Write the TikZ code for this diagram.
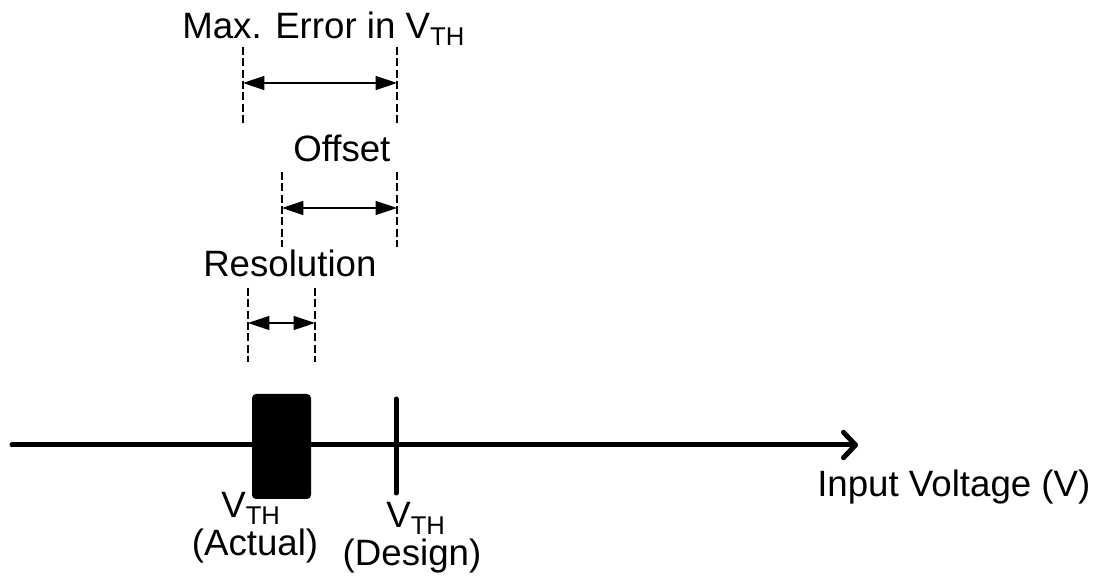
\documentclass[tikz,border=0pt]{standalone}
\usepackage{fontspec}
\setmainfont{Liberation Sans}
\usetikzlibrary{arrows.meta}

\begin{document}
\begin{tikzpicture}[x=0.75pt,y=-0.75pt,
  lbl/.style={inner sep=0pt,font=\fontsize{27.5pt}{33pt}\selectfont},
  guide/.style={line width=0.9pt,dash pattern=on 6pt off 2.5pt},
  dim/.style={line width=0.9pt,{Triangle[length=16pt,width=10.5pt]}-{Triangle[length=16pt,width=10.5pt]}},
  axis/.style={line width=3.75pt,line cap=round,-{Straight Barb[length=9pt,width=19pt,line join=round,line cap=round]}}]
\useasboundingbox (0,0) rectangle (1111,580);

\node[lbl,anchor=base west] (maxerr) at (182,39) {Max. Error in V\textsubscript{TH}};
\node[lbl,anchor=base west] (offset) at (293,162) {Offset};
\node[lbl,anchor=base west] (resol) at (203,277) {Resolution};

\coordinate (maxLt) at (243,47);
\coordinate (maxLb) at (243,123);
\coordinate (maxRt) at (397,47);
\coordinate (maxRb) at (397,123);
\coordinate (maxA) at (243,83);
\coordinate (maxB) at (397,83);

\coordinate (offLt) at (282,172);
\coordinate (offLb) at (282,247);
\coordinate (offRt) at (397,172);
\coordinate (offRb) at (397,247);
\coordinate (offA) at (282,208);
\coordinate (offB) at (397,208);

\coordinate (resLt) at (248,288);
\coordinate (resLb) at (248,362);
\coordinate (resRt) at (315,288);
\coordinate (resRb) at (315,362);
\coordinate (resA) at (248,323);
\coordinate (resB) at (315,323);

\path[draw,guide] (maxLt) -- (maxLb);
\path[draw,guide] (maxRt) -- (maxRb);
\path[draw,dim] (maxA) -- (maxB);
\path[draw,guide] (offLt) -- (offLb);
\path[draw,guide] (offRt) -- (offRb);
\path[draw,dim] (offA) -- (offB);
\path[draw,guide] (resLt) -- (resLb);
\path[draw,guide] (resRt) -- (resRb);
\path[draw,dim] (resA) -- (resB);

\coordinate (axisL) at (12,445);
\coordinate (axisR) at (858,445);
\path[draw,axis] (axisL) -- (axisR);

\node[fill=black,rounded corners=3pt,inner sep=0pt,minimum width=44.25pt,minimum height=78.75pt] (actual) at (281.5,446.5) {};
\coordinate (desT) at (396,399);
\coordinate (desB) at (396,493);
\path[draw,line width=3.75pt,line cap=round] (desT) -- (desB);

\node[lbl,anchor=base] (vthA) at (251,518) {V\textsubscript{TH}};
\node[lbl,anchor=base] (actlbl) at (255,556) {(Actual)};
\node[lbl,anchor=base] (vthD) at (416,528) {V\textsubscript{TH}};
\node[lbl,anchor=base] (deslbl) at (412,566) {(Design)};
\node[lbl,anchor=base west] (input) at (817,497) {Input Voltage (V)};
\end{tikzpicture}
\end{document}
